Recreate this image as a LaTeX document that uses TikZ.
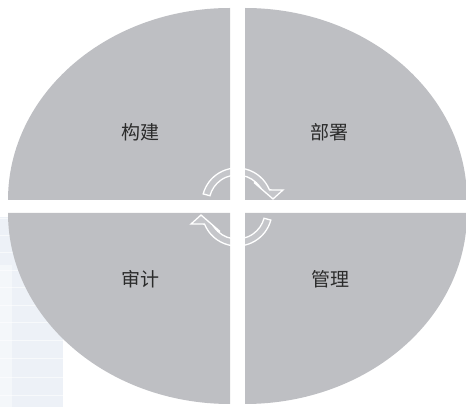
\documentclass[tikz,border=0pt]{standalone}
\usepackage{fontspec}
\newfontfamily\cjk{Noto Sans CJK SC}
\definecolor{quadgray}{HTML}{BEBFC3}
\definecolor{bgblue}{HTML}{EDF1F7}
\definecolor{txtgray}{HTML}{2B2B2B}
\begin{document}
\begin{tikzpicture}[x=1pt,y=1pt,
  quad/.style={fill=quadgray,draw=none},
  lbl/.style={font=\cjk\fontsize{19}{19}\selectfont,text=txtgray,inner sep=0pt},
  arr/.style={draw=white,line width=1.3pt,fill=white,fill opacity=0.12},
  cyc/.pic={
    \path[arr] (-33.81,13.06)
      arc[start angle=165,end angle=22,radius=35]
      -- (46,17)
      -- (36,8)
      -- (17,24.5)
      -- (22.94,20.06)
      arc[start angle=35,end angle=165,radius=28] -- cycle;
  }]
\useasboundingbox (0,0) rectangle (466,407);
% faint background stripes
\fill[bgblue] (0,142) rectangle (60,190);
\fill[bgblue!60] (0,0) rectangle (12,142);
\fill[bgblue] (12,0) rectangle (63,142);
\foreach \yy in {137,155,172,189,120,102,85,67,49,30,12}
  \draw[white,opacity=0.6,line width=0.7pt] (0,\yy) -- (63,\yy);
% quadrants
\fill[quad] (230,207) -- (8,207) arc[start angle=180,end angle=90,x radius=222,y radius=192] -- cycle;
\fill[quad] (245,207) -- (245,399) arc[start angle=90,end angle=0,x radius=222,y radius=192] -- cycle;
\fill[quad] (230,194) -- (8,194) arc[start angle=180,end angle=270,x radius=222,y radius=191] -- cycle;
\fill[quad] (245,194) -- (467,194) arc[start angle=0,end angle=-90,x radius=222,y radius=191] -- cycle;
% labels
\node[lbl] (goujian) at (140,275) {构建};
\node[lbl] (bushu) at (329,275) {部署};
\node[lbl] (shenji) at (140,128) {审计};
\node[lbl] (guanli) at (330,128) {管理};
% cycle arrows
\coordinate (ctr) at (237,200);
\pic (top) at (ctr) {cyc};
\pic[rotate=180] (bot) at (ctr) {cyc};
\end{tikzpicture}
\end{document}
